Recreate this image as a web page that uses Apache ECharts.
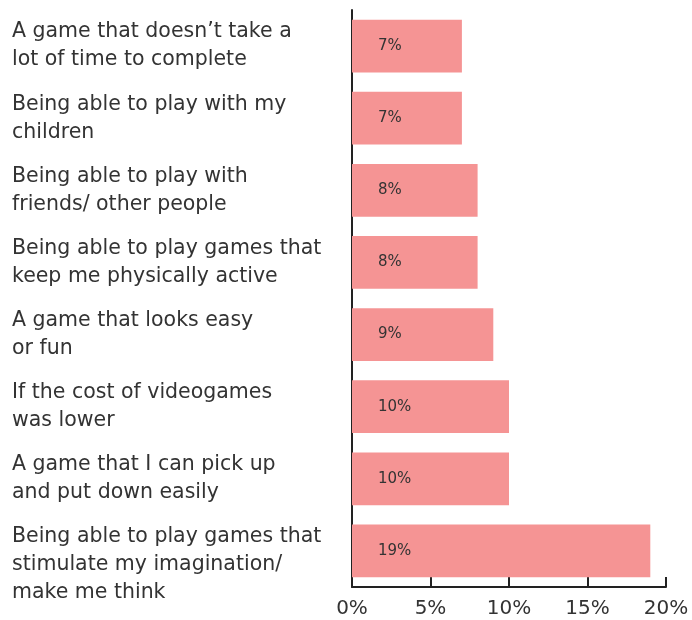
<!DOCTYPE html>
<html>
<head>
<meta charset="utf-8">
<script src="https://cdn.jsdelivr.net/npm/echarts@6/dist/echarts.min.js"></script>
<style>html,body{margin:0;padding:0;background:#fff}#c{width:692px;height:620px}</style>
</head>
<body>
<div id="c"></div>
<script>
var categories = [
  "A game that doesn\u2019t take a\nlot of time to complete",
  "Being able to play with my\nchildren",
  "Being able to play with\nfriends/ other people",
  "Being able to play games that\nkeep me physically active",
  "A game that looks easy\nor fun",
  "If the cost of videogames\nwas lower",
  "A game that I can pick up\nand put down easily",
  "Being able to play games that\nstimulate my imagination/\nmake me think"
];
var values = [7, 7, 8, 8, 9, 10, 10, 19];
var xTicks = [0, 5, 10, 15, 20];

var FONT = 'DejaVu Sans';
var chart = echarts.init(document.getElementById('c'), null, {renderer: 'canvas'});
chart.setOption({
  animation: false,
  grid: {left: 352, right: 26, top: 10, bottom: 33, containLabel: false, outerBoundsMode: 'none'},
  xAxis: {
    type: 'value',
    min: xTicks[0], max: xTicks[xTicks.length - 1], interval: 5,
    axisLine: {show: true, lineStyle: {color: '#222', width: 2}},
    axisTick: {show: true, inside: true, length: 10, lineStyle: {color: '#222', width: 2}},
    splitLine: {show: false},
    axisLabel: {formatter: '{value}%', color: '#333', fontFamily: FONT, fontSize: 20, margin: 12}
  },
  yAxis: {
    type: 'category',
    inverse: true,
    data: categories,
    axisLine: {show: true, lineStyle: {color: '#222', width: 2}},
    axisTick: {show: false},
    axisLabel: {
      margin: 340, interval: 0, hideOverlap: false, align: 'left',
      color: '#333', fontFamily: FONT, fontSize: 20.5, lineHeight: 28,
      formatter: function (v) { return v.split('\n').length > 2 ? '\n' + v : v; }
    }
  },
  series: [{
    type: 'bar',
    data: values,
    barCategoryGap: '27%',
    itemStyle: {color: '#F59494'},
    label: {show: true, position: 'insideLeft', distance: 26, formatter: '{c}%', color: '#333', fontFamily: FONT, fontSize: 15}
  }]
});
</script>
</body>
</html>
